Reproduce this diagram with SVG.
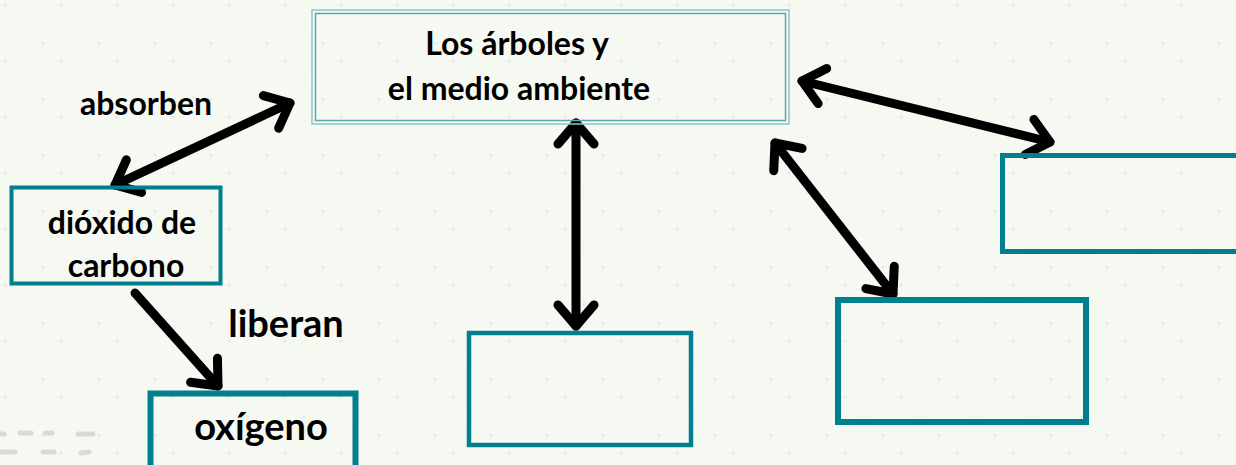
<svg xmlns="http://www.w3.org/2000/svg" width="1236" height="465" viewBox="0 0 1236 465">
<defs>
<style>
.t{font-family:Lato,"Open Sans","Liberation Sans",sans-serif;font-weight:bold;fill:#000;text-anchor:middle}
.box{fill:none;stroke:#007f8e}
.arr{stroke:#000;stroke-width:9;stroke-linecap:round;fill:none}
</style>
<pattern id="dots" width="56" height="56" patternUnits="userSpaceOnUse">
<circle cx="5" cy="5" r="1.5" fill="#e6e8e2"/>
<circle cx="24" cy="24" r="1.5" fill="#e6e8e2"/>
<circle cx="43" cy="43" r="1.5" fill="#e6e8e2"/>
</pattern>
<marker id="ah" markerUnits="userSpaceOnUse" viewBox="-30 -25 40 50" markerWidth="40" markerHeight="50" refX="0" refY="0" orient="auto-start-reverse" overflow="visible">
<path d="M -21 -18 L 0 0 L -21 18" fill="none" stroke="#000" stroke-width="9" stroke-linecap="round" stroke-linejoin="round"/>
</marker>
</defs>
<rect width="1236" height="465" fill="#f6f8f2"/>
<rect width="1236" height="465" fill="url(#dots)"/>
<g id="deco" stroke="#d9dad6" stroke-width="5" stroke-linecap="round">
<line x1="-2" y1="434" x2="4" y2="434"/>
<line x1="20" y1="433" x2="31" y2="433"/>
<line x1="45" y1="433" x2="52" y2="433"/>
<line x1="78" y1="434" x2="93" y2="434"/>
<line x1="-2" y1="452" x2="15" y2="452"/>
<line x1="43" y1="452" x2="54" y2="452"/>
<line x1="81" y1="453" x2="89" y2="452"/>
</g>
<g id="connectors">
<line class="arr" x1="115" y1="185" x2="290" y2="103" marker-start="url(#ah)" marker-end="url(#ah)"/>
<line class="arr" x1="576" y1="123" x2="576" y2="326" marker-start="url(#ah)" marker-end="url(#ah)"/>
<line class="arr" x1="802" y1="81" x2="1050" y2="142" marker-start="url(#ah)" marker-end="url(#ah)"/>
<line class="arr" x1="775" y1="143" x2="893" y2="294" marker-start="url(#ah)" marker-end="url(#ah)"/>
<line class="arr" x1="135" y1="293" x2="218" y2="386" marker-end="url(#ah)"/>
</g>
<g id="n-main">
<rect x="312" y="10" width="477" height="114" fill="none" stroke="#8cc5ca" stroke-width="1.5"/>
<rect x="315.5" y="13.5" width="470" height="107" fill="none" stroke="#5aa7ae" stroke-width="1.5"/>
<text class="t" x="517" y="55" font-size="32">Los árboles y</text>
<text class="t" x="519" y="100" font-size="32">el medio ambiente</text>
</g>
<g id="l-absorben"><text class="t" x="146" y="115" font-size="32">absorben</text></g>
<g id="n-co2">
<rect class="box" x="11.5" y="187.5" width="209" height="96" stroke-width="4"/>
<text class="t" x="122" y="234" font-size="32">dióxido de</text>
<text class="t" x="126" y="277" font-size="32">carbono</text>
</g>
<g id="l-liberan"><text class="t" x="286" y="337" font-size="38">liberan</text></g>
<g id="n-oxigeno">
<rect class="box" x="150.5" y="393.5" width="205" height="80" stroke-width="6"/>
<text class="t" x="261" y="440" font-size="38">oxígeno</text>
</g>
<g id="n-blank1"><rect class="box" x="469" y="333" width="222" height="112" stroke-width="4.5"/></g>
<g id="n-blank2"><rect class="box" x="838" y="300" width="248" height="122" stroke-width="6"/></g>
<g id="n-blank3"><rect class="box" x="1002.5" y="155.5" width="240" height="96" stroke-width="5"/></g>
</svg>
